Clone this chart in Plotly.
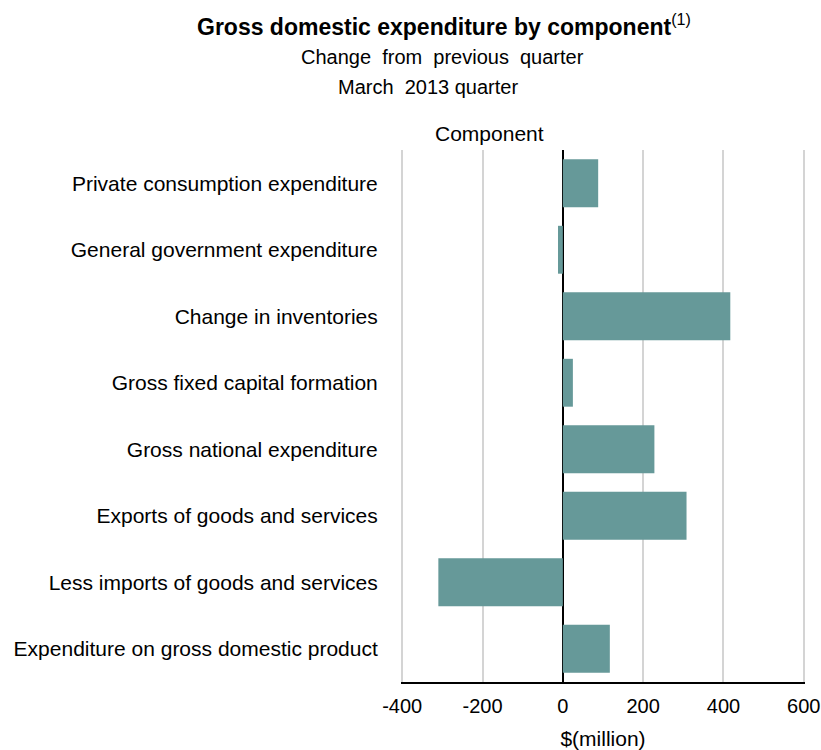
import plotly.graph_objects as go

categories = [
    "Private consumption expenditure",
    "General government expenditure",
    "Change in inventories",
    "Gross fixed capital formation",
    "Gross national expenditure",
    "Exports of goods and services",
    "Less imports of goods and services",
    "Expenditure on gross domestic product",
]
values = [88, -12, 417, 25, 228, 308, -310, 117]
x_ticks = [-400, -200, 0, 200, 400, 600]

FONT = "Liberation Sans, Arial, sans-serif"
L, R, T, B = 401, 16, 150, 68

fig = go.Figure(
    go.Bar(
        y=categories,
        x=values,
        orientation="h",
        marker=dict(color="#669999", line=dict(width=0)),
    )
)

fig.update_layout(
    width=821,
    height=750,
    paper_bgcolor="white",
    plot_bgcolor="white",
    margin=dict(l=L, r=R, t=T, b=B, autoexpand=False),
    bargap=0.28,
    showlegend=False,
    font=dict(family=FONT, size=20, color="#000000"),
)

fig.update_xaxes(
    range=[-403, 603],
    tickvals=x_ticks,
    ticktext=[str(v) for v in x_ticks],
    showgrid=True,
    gridcolor="#d4d4d4",
    gridwidth=2,
    zeroline=True,
    zerolinecolor="#000000",
    zerolinewidth=2,
    showline=True,
    linecolor="#000000",
    linewidth=2,
    ticks="outside",
    ticklen=5,
    tickcolor="rgba(0,0,0,0)",
    tickfont=dict(size=20),
    title=dict(text="$(million)", font=dict(size=21), standoff=16),
    automargin=False,
    fixedrange=True,
)

fig.update_yaxes(
    autorange="reversed",
    showgrid=False,
    showline=False,
    ticks="outside",
    ticklen=18,
    tickcolor="rgba(0,0,0,0)",
    tickfont=dict(size=21),
    automargin=False,
    fixedrange=True,
)

def top_text(text, cx, cy, size):
    fig.add_annotation(
        text=text,
        xref="paper", yref="paper", x=0.0, y=1.0,
        xshift=cx - L, yshift=T - cy,
        xanchor="center", yanchor="middle", showarrow=False,
        font=dict(size=size, family=FONT),
    )

top_text("<b>Gross domestic expenditure by component</b><sup>(1)</sup>", 444, 25, 23)
top_text("Change  from  previous  quarter", 442, 57, 20)
top_text("March  2013 quarter", 428, 87, 20)
top_text("Component", 489, 133, 21)

fig.write_html(
    "out.html",
    config={"displayModeBar": False},
    post_script="document.body.style.margin='0';document.body.style.overflow='hidden';",
)
